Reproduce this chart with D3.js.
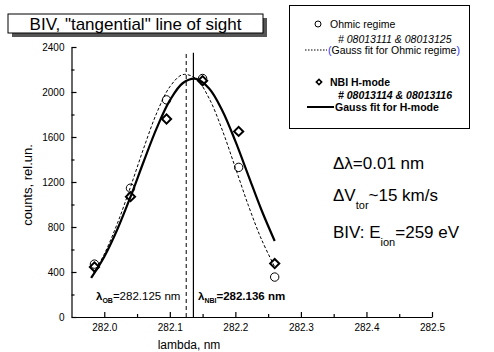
<!DOCTYPE html>
<html><head><meta charset="utf-8">
<script src="https://cdn.jsdelivr.net/npm/d3@7"></script>
<style>
body{margin:0;background:#fff}
svg{display:block}
text{font-family:"Liberation Sans",Arial,sans-serif;fill:#000}
</style>
</head><body>
<svg id="c" width="494" height="352"></svg>
<script>
// ---- data ----
const lambdaX = [281.985, 282.04, 282.095, 282.15, 282.205, 282.26];
const ohmicCounts = [470, 1145, 1930, 2120, 1330, 355];
const nbiCounts = [445, 1070, 1760, 2100, 1650, 475];
const fitX = [281.98, 282.00, 282.02, 282.04, 282.06, 282.08, 282.10, 282.12, 282.14, 282.16, 282.18, 282.20, 282.22, 282.24, 282.26];
const ohmicFit = [350, 559, 832, 1156, 1498, 1813, 2046, 2155, 2118, 1943, 1662, 1327, 989, 688, 446];
const nbiFit = [347, 536, 780, 1068, 1380, 1679, 1925, 2080, 2117, 2031, 1836, 1563, 1255, 949, 676];
const xTicks = [282.0, 282.1, 282.2, 282.3, 282.4, 282.5];
const xMinor = [282.05, 282.15, 282.25, 282.35, 282.45];
const yTicks = [0, 400, 800, 1200, 1600, 2000, 2400];
const yMinor = [200, 600, 1000, 1400, 1800, 2200];
const lambdaOB = 282.125, lambdaNBI = 282.136;
const markerLineTop = 2350;

const svg = d3.select("#c");
const x = d3.scaleLinear().domain([281.95, 282.5]).range([71.5, 432]);
const y = d3.scaleLinear().domain([0, 2400]).range([317, 47]);

// title box with shadow
svg.append("rect").attr("x", 12).attr("y", 18).attr("width", 255).attr("height", 19).attr("fill", "#555");
svg.append("rect").attr("x", 8).attr("y", 14).attr("width", 255).attr("height", 19).attr("fill", "#fff").attr("stroke", "#000").attr("stroke-width", 1);
svg.append("text").attr("x", 135.5).attr("y", 29.5).attr("text-anchor", "middle").attr("font-size", 17).text('BIV, "tangential" line of sight');

// axes
const gx = svg.append("g").attr("transform", "translate(0,317)");
gx.call(d3.axisBottom(x).tickValues(xTicks).tickSize(-5).tickSizeOuter(0).tickPadding(7).tickFormat(d3.format(".1f")));
const gxm = svg.append("g").attr("transform", "translate(0,317)");
gxm.call(d3.axisBottom(x).tickValues(xMinor).tickSize(-3).tickFormat(""));
gxm.select(".domain").remove();
const gy = svg.append("g").attr("transform", "translate(71.5,0)");
gy.call(d3.axisLeft(y).tickValues(yTicks).tickSize(-5).tickSizeOuter(0).tickPadding(7).tickFormat(d3.format("d")));
const gym = svg.append("g").attr("transform", "translate(71.5,0)");
gym.call(d3.axisLeft(y).tickValues(yMinor).tickSize(-3).tickFormat(""));
gym.select(".domain").remove();
svg.selectAll(".tick text").attr("font-size", 10).attr("font-family", "Liberation Sans, Arial, sans-serif");
svg.selectAll(".domain, .tick line").attr("stroke", "#000").attr("stroke-width", 1.2);

svg.append("text").attr("transform", "translate(32,185) rotate(-90)").attr("text-anchor", "middle").attr("font-size", 13).text("counts, rel.un.");
svg.append("text").attr("x", 189).attr("y", 349).attr("text-anchor", "middle").attr("font-size", 12).text("lambda, nm");

// vertical center lines
svg.append("line").attr("x1", x(lambdaOB)).attr("x2", x(lambdaOB)).attr("y1", y(0)).attr("y2", y(markerLineTop))
  .attr("stroke", "#000").attr("stroke-width", 1).attr("stroke-dasharray", "4,3");
svg.append("line").attr("x1", x(lambdaNBI)).attr("x2", x(lambdaNBI)).attr("y1", y(0)).attr("y2", y(markerLineTop))
  .attr("stroke", "#000").attr("stroke-width", 1.2);

// fits
const line = d3.line().x((d, i) => x(fitX[i])).y(d => y(d)).curve(d3.curveCatmullRom);
svg.append("path").attr("d", line(ohmicFit)).attr("fill", "none").attr("stroke", "#000").attr("stroke-width", 1).attr("stroke-dasharray", "3,2");
svg.append("path").attr("d", line(nbiFit)).attr("fill", "none").attr("stroke", "#000").attr("stroke-width", 2.2);

// markers
svg.append("g").selectAll("circle").data(ohmicCounts).join("circle")
  .attr("cx", (d, i) => x(lambdaX[i])).attr("cy", d => y(d)).attr("r", 4.2)
  .attr("fill", "none").attr("stroke", "#000").attr("stroke-width", 1);
svg.append("g").selectAll("path").data(nbiCounts).join("path")
  .attr("transform", (d, i) => `translate(${x(lambdaX[i])},${y(d)}) rotate(45)`)
  .attr("d", d3.symbol().type(d3.symbolSquare).size(42)).attr("fill", "none").attr("stroke", "#000").attr("stroke-width", 2);

// lambda labels
const t1 = svg.append("text").attr("x", 96).attr("y", 300).attr("font-size", 11.5);
t1.append("tspan").attr("font-weight", "bold").text("λ");
t1.append("tspan").attr("font-weight", "bold").attr("font-size", 7).attr("dy", 3).text("OB");
t1.append("tspan").attr("dy", -3).text("=282.125 nm");
const t2 = svg.append("text").attr("x", 198).attr("y", 300).attr("font-size", 11.5).attr("font-weight", "bold");
t2.append("tspan").text("λ");
t2.append("tspan").attr("font-size", 7).attr("dy", 3).text("NBI");
t2.append("tspan").attr("dy", -3).text("=282.136 nm");

// annotations
const a1 = svg.append("text").attr("x", 333).attr("y", 169).attr("font-size", 17);
a1.text("Δλ=0.01 nm");
const a2 = svg.append("text").attr("x", 333).attr("y", 201).attr("font-size", 17);
a2.append("tspan").text("ΔV");
a2.append("tspan").attr("font-size", 11).attr("dy", 8).text("tor");
a2.append("tspan").attr("dy", -8).text("~15 km/s");
const a3 = svg.append("text").attr("x", 333).attr("y", 238).attr("font-size", 17);
a3.append("tspan").text("BIV: E");
a3.append("tspan").attr("font-size", 11).attr("dy", 8).text("ion");
a3.append("tspan").attr("dy", -8).text("=259 eV");

// legend
const lg = svg.append("g");
lg.append("rect").attr("x", 289.5).attr("y", 5.5).attr("width", 180).attr("height", 123).attr("fill", "#fff").attr("stroke", "#000").attr("stroke-width", 1);
lg.append("circle").attr("cx", 318).attr("cy", 24).attr("r", 3).attr("fill", "none").attr("stroke", "#000");
lg.append("text").attr("x", 330).attr("y", 28).attr("font-size", 10.5).text("Ohmic regime");
lg.append("text").attr("x", 338).attr("y", 43).attr("font-size", 10.5).attr("font-style", "italic").text("# 08013111 & 08013125");
lg.append("line").attr("x1", 305).attr("x2", 327).attr("y1", 50).attr("y2", 50).attr("stroke", "#000").attr("stroke-dasharray", "1.5,1.5");
const lt = lg.append("text").attr("x", 328).attr("y", 54).attr("font-size", 10.5);
lt.append("tspan").attr("fill", "#3030ff").text("(");
lt.append("tspan").text("Gauss fit for Ohmic regime");
lt.append("tspan").attr("fill", "#3030ff").text(")");
lg.append("path").attr("transform", "translate(319,82) rotate(45)").attr("d", d3.symbol().type(d3.symbolSquare).size(14))
  .attr("fill", "none").attr("stroke", "#000").attr("stroke-width", 1.6);
lg.append("text").attr("x", 330).attr("y", 86).attr("font-size", 10.5).attr("font-weight", "bold").text("NBI H-mode");
lg.append("text").attr("x", 338).attr("y", 99).attr("font-size", 10.5).attr("font-weight", "bold").attr("font-style", "italic").text("# 08013114 & 08013116");
lg.append("line").attr("x1", 307).attr("x2", 334).attr("y1", 107).attr("y2", 107).attr("stroke", "#000").attr("stroke-width", 2);
lg.append("text").attr("x", 335).attr("y", 111).attr("font-size", 10.5).attr("font-weight", "bold").text("Gauss fit for H-mode");
</script>
</body></html>
